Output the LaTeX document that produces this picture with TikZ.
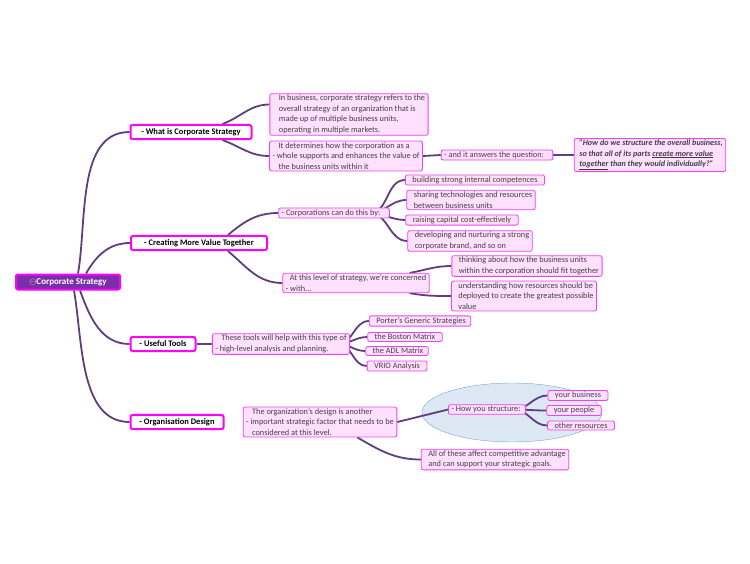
\documentclass[tikz,border=0pt]{standalone}
\usepackage{fontspec}
\setmainfont{Carlito}
\usetikzlibrary{calc,backgrounds}
\definecolor{mag}{HTML}{FF00FF}
\definecolor{leafbd}{HTML}{F040F0}
\definecolor{leaffill}{HTML}{FFE0FF}
\definecolor{rootfill}{HTML}{7A2FA8}
\definecolor{branch}{HTML}{5E3F7E}
\definecolor{cloud}{HTML}{DCE8F4}
\definecolor{cloudbd}{HTML}{7FA3C8}
\begin{document}
\begin{tikzpicture}
  [
    x=1pt, y=-1pt,
    font=\fontsize{8.3}{10.5}\selectfont,
    root/.style =
      {draw=mag, line width=2pt, fill=rootfill, rounded corners=2pt, text=white,
       font=\fontsize{10.5}{12}\selectfont\bfseries, minimum height=15pt, minimum width=104pt, inner xsep=2pt},
    topic/.style =
      {draw=mag, line width=2pt, fill=white, rounded corners=2pt,
       font=\fontsize{8.5}{10}\selectfont\bfseries, minimum height=14pt, inner xsep=3pt},
    leaf/.style =
      {draw=leafbd, line width=0.8pt, fill=leaffill, rounded corners=2pt, align=left,
       inner xsep=3pt, inner ysep=1.5pt, text=black!75},
    link/.style =
      {draw=branch, line width=1.8pt}
  ]
\useasboundingbox (0,0) rectangle (750,563);

\node[root] (cs) at (68,282) {\small$\ominus$Corporate Strategy\hspace{10pt}};

\node[topic, minimum width=121pt] (what) at (191,132) {- What is Corporate Strategy};
\node[topic, minimum width=136pt] (more) at (199,243) {- Creating More Value Together};
\node[topic, minimum width=65pt] (tools) at (163,344) {- Useful Tools\hspace{3pt}};
\node[topic, minimum width=93pt] (org) at (177,422) {- Organisation Design\hspace{2pt}};

\node[leaf] (def) at (349,114.5) {\hspace{6pt}In business, corporate strategy refers to the\\
  \hspace{6pt}overall strategy of an organization that is\\
  \hspace{6pt}made up of multiple business units,\\
  \hspace{6pt}operating in multiple markets.};
\node[leaf] (supp) at (346,156) {\hspace{6pt}It determines how the corporation as a\\
  - whole supports and enhances the value of\\
  \hspace{6pt}the business units within it};
\node[leaf] (ans) at (497,155) {- and it answers the question:\hspace{6pt}};
\node[leaf, font=\fontsize{8.1}{10.5}\selectfont\bfseries\itshape] (quote) at (650,155)
  {\hspace{2pt}"How do we structure the overall business,\\
   \hspace{2pt}so that all of its parts \underline{create more value}\\
   \hspace{2pt}\underline{together} than they would individually?"};

\node[leaf] (can) at (334,213) {- Corporations can do this by:\hspace{6pt}};
\node[leaf] (b1) at (475,180) {\hspace{4pt}building strong internal competences\hspace{4pt}};
\node[leaf] (b2) at (471,200) {\hspace{4pt}sharing technologies and resources\hspace{4pt}\\
  \hspace{4pt}between business units};
\node[leaf] (b3) at (462,220) {\hspace{4pt}raising capital cost-effectively\hspace{4pt}};
\node[leaf] (b4) at (470,241) {\hspace{4pt}developing and nurturing a strong\hspace{4pt}\\
  \hspace{4pt}corporate brand, and so on};

\node[leaf] (level) at (356,283) {\hspace{4pt}At this level of strategy, we're concerned\hspace{4pt}\\
  - with...};
\node[leaf] (fit) at (527,266) {\hspace{4pt}thinking about how the business units\\
  \hspace{4pt}within the corporation should fit together};
\node[leaf] (res) at (524,296) {\hspace{4pt}understanding how resources should be\hspace{4pt}\\
  \hspace{4pt}deployed to create the greatest possible\\
  \hspace{4pt}value};

\node[leaf] (help) at (281,344) {\hspace{6pt}These tools will help with this type of\hspace{2pt}\\
  - high-level analysis and planning.};
\node[leaf] (porter) at (420,321) {\hspace{4pt}Porter's Generic Strategies\hspace{2pt}};
\node[leaf] (bcg) at (405,337) {\hspace{4pt}the Boston Matrix\hspace{4pt}};
\node[leaf] (adl) at (397,351) {\hspace{4pt}the ADL Matrix\hspace{2pt}};
\node[leaf] (vrio) at (397,366) {\hspace{4pt}VRIO Analysis\hspace{4pt}};

\node[leaf] (design) at (320,422) {\hspace{6pt}The organization's design is another\hspace{2pt}\\
  - important strategic factor that needs to be\\
  \hspace{6pt}considered at this level.};
\node[leaf] (how) at (487,409.5) {- How you structure:\hspace{2pt}};
\node[leaf] (biz) at (578,395.5) {\hspace{4pt}your business\hspace{4pt}};
\node[leaf] (ppl) at (574,410.5) {\hspace{4pt}your people\hspace{4pt}};
\node[leaf] (oth) at (581,425.5) {\hspace{4pt}other resources\hspace{4pt}};
\node[leaf] (affect) at (495,459.5) {\hspace{4pt}All of these affect competitive advantage\\
  \hspace{4pt}and can support your strategic goals.};

\begin{scope}[on background layer]
% cloud behind the structure group
\draw[cloudbd, fill=cloud] (512,412.5) ellipse (90 and 29.5);

% branches from the central topic
\draw[link] ($(cs.north)+(10,0)$) to[out=80, in=180, looseness=0.9] (what.west);
\draw[link] ($(cs.north)+(18,0)$) to[out=60, in=180] (more.west);
\draw[link] ($(cs.south)+(12,0)$) to[out=-70, in=180] (tools.west);
\draw[link] ($(cs.south)+(6,0)$) to[out=-80, in=180, looseness=0.9] (org.west);

% what is corporate strategy
\draw[link] ($(what.north east)+(-30,0)$) to[out=20, in=180] ($(def.west)+(0,-10)$);
\draw[link] ($(what.south east)+(-30,0)$) to[out=-20, in=180] (supp.west);
\draw[link] (supp.east) -- (ans.west);
\draw[link] (ans.east) -- (quote.west);

% creating more value together
\draw[link] ($(more.north east)+(-40,0)$) to[out=40, in=180] (can.west);
\draw[link] ($(more.south east)+(-40,0)$) to[out=-40, in=180] (level.west);
\foreach \b in {b1,b2,b3,b4}
  \draw[link] ($(can.east)+(-20,0)$) to[out=0, in=180] (\b.west);
\draw[link] ($(level.north east)+(-20,0)$) to[out=10, in=180] (fit.west);
\draw[link] ($(level.south east)+(-20,0)$) to[out=-10, in=180] (res.west);

% useful tools
\draw[link] (tools.east) -- (help.west);
\foreach \t in {porter,bcg,adl,vrio}
  \draw[link] ($(help.east)+(-12,0)$) to[out=0, in=180] (\t.west);

% organisation design
\draw[link] (design.east) -- (how.west);
\draw[link] ($(design.south east)+(-40,0)$) to[out=-30, in=180] (affect.west);
\foreach \r in {biz,ppl,oth}
  \draw[link] ($(how.east)+(-12,0)$) to[out=0, in=180] (\r.west);
\end{scope}
\end{tikzpicture}
\end{document}
